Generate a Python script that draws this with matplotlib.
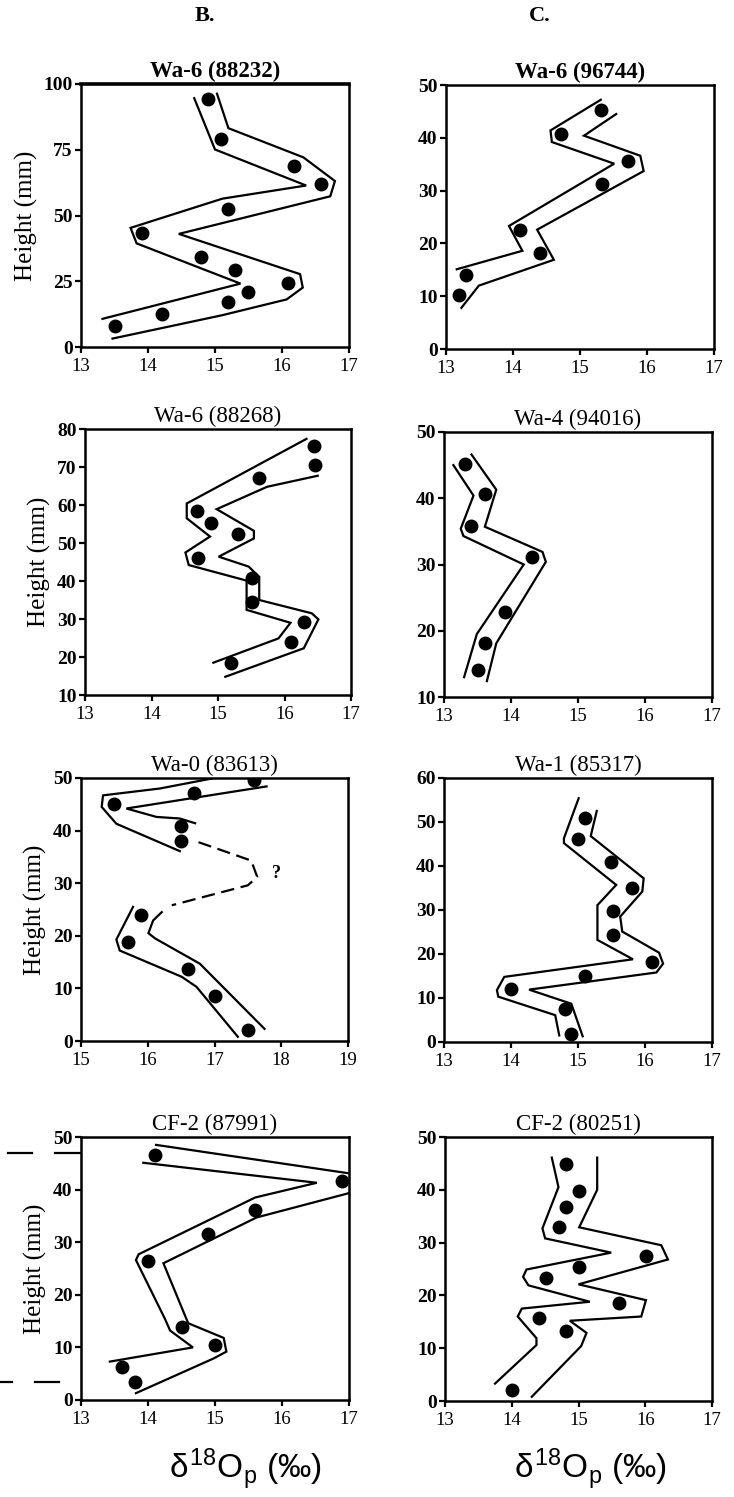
import matplotlib
matplotlib.use("Agg")
import matplotlib.pyplot as plt
from matplotlib.transforms import blended_transform_factory

plt.rcParams['font.family'] = ['Liberation Serif', 'DejaVu Serif']
plt.rcParams['mathtext.fontset'] = 'custom'
plt.rcParams['mathtext.rm'] = 'Liberation Sans'
plt.rcParams['mathtext.it'] = 'Liberation Sans'

# ---- data (d18O, height in mm) ----
# B1  Wa-6 (88232)
b1_x = [14.90, 15.09, 16.18, 16.58, 15.20, 13.91, 14.79, 15.30, 16.09, 15.49, 15.19, 14.21, 13.51]
b1_y = [94.3, 79.1, 68.9, 61.9, 52.6, 43.4, 34.3, 29.2, 24.5, 20.8, 17.2, 12.4, 7.9]
b1_lo_x = [14.69, 15.00, 16.36, 15.11, 13.74, 13.83, 15.38, 13.32]
b1_lo_y = [94.6, 75.1, 61.4, 56.4, 45.3, 39.4, 24.1, 10.7]
b1_hi_x = [15.03, 15.20, 16.32, 16.79, 16.72, 14.46, 16.27, 16.31, 16.07, 15.11, 13.47]
b1_hi_y = [96.3, 83.2, 72.1, 63.1, 57.3, 43.0, 27.7, 22.6, 18.1, 12.1, 3.2]

# C1  Wa-6 (96744)
c1_x = [15.31, 14.71, 15.71, 15.33, 14.11, 14.41, 13.30, 13.20]
c1_y = [45.2, 40.7, 35.6, 31.2, 22.6, 18.1, 14.1, 10.2]
c1_lo_x = [13.16, 14.14, 13.94, 15.51, 14.58, 14.56, 15.31]
c1_lo_y = [15.1, 18.6, 23.3, 35.1, 39.2, 41.4, 47.2]
c1_hi_x = [13.23, 13.49, 14.61, 14.36, 15.95, 15.90, 15.06, 15.54]
c1_hi_y = [7.8, 12.0, 16.9, 22.6, 33.7, 36.6, 40.4, 44.5]

# B2  Wa-6 (88268)
b2_x = [16.45, 16.46, 15.61, 14.68, 14.89, 15.30, 14.70, 15.51, 15.51, 16.30, 16.10, 15.20]
b2_y = [75.6, 70.4, 67.2, 58.5, 55.2, 52.4, 46.0, 40.7, 34.6, 29.3, 24.0, 18.3]
b2_lo_x = [16.33, 14.53, 14.53, 14.88, 14.51, 14.56, 15.43, 15.43, 16.09, 15.91, 14.93]
b2_lo_y = [77.4, 60.4, 56.5, 51.7, 47.5, 44.2, 40.1, 32.4, 29.0, 24.9, 18.5]
b2_hi_x = [16.50, 15.74, 14.98, 15.54, 15.54, 15.01, 15.46, 15.62, 15.62, 16.41, 16.51, 16.29, 15.11]
b2_hi_y = [67.7, 64.8, 58.9, 53.2, 51.2, 46.4, 43.8, 41.1, 35.0, 31.5, 29.9, 22.3, 14.8]

# C2  Wa-4 (94016)
c2_x = [13.31, 13.61, 13.41, 14.31, 13.91, 13.61, 13.51]
c2_y = [45.1, 40.7, 35.8, 31.1, 22.8, 18.2, 14.1]
c2_lo_x = [13.14, 13.44, 13.25, 13.29, 14.19, 13.49, 13.30]
c2_lo_y = [45.0, 40.4, 35.4, 34.3, 30.0, 19.5, 13.0]
c2_hi_x = [13.41, 13.78, 13.61, 14.47, 14.52, 13.78, 13.64]
c2_hi_y = [46.6, 41.3, 35.7, 31.9, 30.4, 18.1, 12.4]

# B3  Wa-0 (83613)
b3_x = [17.59, 16.70, 15.50, 16.50, 16.50, 15.90, 15.70, 16.61, 17.00, 17.50]
b3_y = [49.7, 47.2, 45.0, 40.8, 38.0, 23.9, 18.9, 13.6, 8.6, 2.0]
b3_a_x = [16.96, 16.18, 15.33, 15.31, 15.53, 16.48]
b3_a_y = [49.9, 48.0, 46.7, 44.5, 41.3, 36.1]
b3_b_x = [17.78, 15.68, 16.13, 16.48, 16.71]
b3_b_y = [48.4, 44.2, 42.6, 42.3, 41.4]
b3_gap_x = [16.76, 17.55, 17.64, 17.50, 16.36]
b3_gap_y = [37.8, 34.3, 31.2, 29.6, 25.8]
b3_c_x = [15.78, 15.53, 15.58, 16.51, 16.73, 17.35]
b3_c_y = [25.5, 19.3, 17.2, 12.2, 10.3, 0.8]
b3_d_x = [16.21, 16.08, 16.01, 16.11, 16.78, 17.75]
b3_d_y = [24.5, 22.9, 20.5, 19.5, 14.7, 2.3]

# C3  Wa-1 (85317)
c3_x = [15.11, 15.00, 15.49, 15.81, 15.52, 15.52, 16.11, 15.11, 14.00, 14.80, 14.90]
c3_y = [51.0, 46.1, 40.9, 35.1, 29.7, 24.3, 18.2, 15.0, 12.1, 7.4, 1.9]
c3_lo_x = [15.01, 14.79, 14.79, 15.57, 15.29, 15.29, 15.82, 13.90, 13.79, 13.81, 14.66, 14.72]
c3_lo_y = [55.4, 46.3, 45.2, 35.7, 31.1, 23.2, 18.8, 14.8, 11.8, 10.3, 6.1, 1.5]
c3_hi_x = [15.28, 15.19, 15.98, 15.96, 15.63, 15.66, 16.21, 16.27, 16.17, 14.27, 14.90, 15.07]
c3_hi_y = [52.5, 46.8, 37.2, 34.2, 28.5, 25.1, 20.3, 17.8, 15.8, 11.9, 8.7, 1.3]

# B4  CF-2 (87991)
b4_x = [14.10, 16.89, 15.60, 14.90, 14.00, 14.50, 15.00, 13.61, 13.81]
b4_y = [46.6, 41.6, 36.1, 31.5, 26.5, 13.9, 10.5, 6.3, 3.4]
b4_lo_x = [13.93, 16.52, 15.60, 13.86, 13.82, 14.25, 14.33, 14.67, 13.43]
b4_lo_y = [45.1, 41.3, 38.5, 27.7, 26.6, 15.5, 13.2, 10.0, 7.3]
b4_hi_x = [14.12, 17.05, 17.05, 15.62, 14.23, 14.60, 15.13, 15.17, 14.98, 13.82]
b4_hi_y = [48.5, 43.0, 39.5, 34.7, 26.0, 14.6, 11.8, 9.2, 7.9, 1.3]

# C4  CF-2 (80251)
c4_x = [14.82, 15.01, 14.82, 14.71, 16.01, 15.01, 14.51, 15.61, 14.41, 14.82, 14.01]
c4_y = [44.8, 39.7, 36.8, 32.9, 27.4, 25.3, 23.3, 18.6, 15.8, 13.2, 2.0]
c4_lo_x = [14.60, 14.70, 14.46, 14.50, 15.49, 14.22, 14.17, 14.25, 15.17, 14.15, 14.09, 14.37, 14.37, 13.75]
c4_lo_y = [46.1, 40.5, 32.7, 30.8, 28.1, 24.9, 23.5, 21.9, 18.8, 17.5, 16.0, 11.9, 10.6, 3.3]
c4_hi_x = [15.28, 15.28, 15.01, 16.24, 16.34, 15.00, 16.01, 15.94, 14.87, 15.12, 15.04, 14.30]
c4_hi_y = [46.1, 40.0, 32.9, 29.5, 26.8, 22.1, 19.1, 16.0, 15.2, 12.9, 10.4, 0.8]

# ---- layout ----
fig = plt.figure(figsize=(7.34, 14.97), dpi=100)
W, H = 734.0, 1497.0


def make_ax(left, top, right, bottom):
    return fig.add_axes([left / W, 1 - bottom / H, (right - left) / W, (bottom - top) / H])


def style(ax, title, xlim, ylim, yticks, ylabel=False, bold_title=False):
    ax.set_xlim(*xlim)
    ax.set_ylim(*ylim)
    ax.set_xticks(range(xlim[0], xlim[1] + 1))
    ax.set_yticks(yticks)
    for s in ax.spines.values():
        s.set_linewidth(1.8)
    ax.tick_params(direction='out', length=4, width=1.6, pad=2)
    ax.tick_params(axis='x', pad=4)
    for lab in ax.get_xticklabels():
        lab.set_fontsize(13.5)
    for lab in ax.get_yticklabels():
        lab.set_fontsize(14)
        lab.set_fontweight('bold')
    ax.set_title(title, fontsize=16.5, pad=5, fontweight='bold' if bold_title else 'normal')
    if ylabel:
        ax.set_ylabel('Height (mm)', fontsize=18, labelpad=4)


def draw(ax, px, py, lines):
    for lx, ly in lines:
        ax.plot(lx, ly, color='black', lw=1.6, solid_joinstyle='miter')
    ax.plot(px, py, 'o', color='black', ms=9)


ax = make_ax(81, 84, 349, 347)
draw(ax, b1_x, b1_y, [(b1_lo_x, b1_lo_y), (b1_hi_x, b1_hi_y)])
style(ax, 'Wa-6 (88232)', (13, 17), (0, 100), [0, 25, 50, 75, 100], ylabel=True, bold_title=True)
ax.spines['top'].set_linewidth(2.6)

ax = make_ax(446, 85, 714, 349)
draw(ax, c1_x, c1_y, [(c1_lo_x, c1_lo_y), (c1_hi_x, c1_hi_y)])
style(ax, 'Wa-6 (96744)', (13, 17), (0, 50), range(0, 51, 10), bold_title=True)

ax = make_ax(85, 429, 351, 695)
draw(ax, b2_x, b2_y, [(b2_lo_x, b2_lo_y), (b2_hi_x, b2_hi_y)])
style(ax, 'Wa-6 (88268)', (13, 17), (10, 80), range(10, 81, 10), ylabel=True)

ax = make_ax(444, 432, 712, 697)
draw(ax, c2_x, c2_y, [(c2_lo_x, c2_lo_y), (c2_hi_x, c2_hi_y)])
style(ax, 'Wa-4 (94016)', (13, 17), (10, 50), range(10, 51, 10))

ax = make_ax(81, 778, 348, 1041)
draw(ax, b3_x, b3_y, [(b3_a_x, b3_a_y), (b3_b_x, b3_b_y), (b3_c_x, b3_c_y), (b3_d_x, b3_d_y)])
ax.plot(b3_gap_x, b3_gap_y, color='black', lw=1.6, ls=(0, (6, 3)))
ax.text(17.93, 31.8, '?', fontsize=13, fontweight='bold', ha='center', va='center')
style(ax, 'Wa-0 (83613)', (15, 19), (0, 50), range(0, 51, 10), ylabel=True)

ax = make_ax(444, 778, 712, 1042)
draw(ax, c3_x, c3_y, [(c3_lo_x, c3_lo_y), (c3_hi_x, c3_hi_y)])
style(ax, 'Wa-1 (85317)', (13, 17), (0, 60), range(0, 61, 10))

ax = make_ax(81, 1137, 349, 1400)
draw(ax, b4_x, b4_y, [(b4_lo_x, b4_lo_y), (b4_hi_x, b4_hi_y)])
style(ax, 'CF-2 (87991)', (13, 17), (0, 50), range(0, 51, 10), ylabel=True)
# bracket marks left of the axis
tr = blended_transform_factory(fig.transFigure, ax.transData)
for x0, x1, yy in [(8, 32, 47.0), (55, 80, 47.0), (0, 12, 3.4), (35, 59, 3.4)]:
    ax.plot([x0 / W, x1 / W], [yy, yy], color='black', lw=1.6, transform=tr, clip_on=False)

ax = make_ax(445, 1137, 712, 1401)
draw(ax, c4_x, c4_y, [(c4_lo_x, c4_lo_y), (c4_hi_x, c4_hi_y)])
style(ax, 'CF-2 (80251)', (13, 17), (0, 50), range(0, 51, 10))

# headers and axis labels
fig.text(205 / W, 1 - 16 / H, 'B.', fontsize=16, fontweight='bold', ha='center', va='center')
fig.text(540 / W, 1 - 16 / H, 'C.', fontsize=16, fontweight='bold', ha='center', va='center')
xl = r'$\delta^{18}$O$_{\mathrm{p}}$ (‰)'
fig.text(245 / W, 1 - 1470 / H, xl, fontsize=24, ha='center', va='center', family='Liberation Sans')
fig.text(590 / W, 1 - 1470 / H, xl, fontsize=24, ha='center', va='center', family='Liberation Sans')

fig.savefig('out.png', dpi=100)
